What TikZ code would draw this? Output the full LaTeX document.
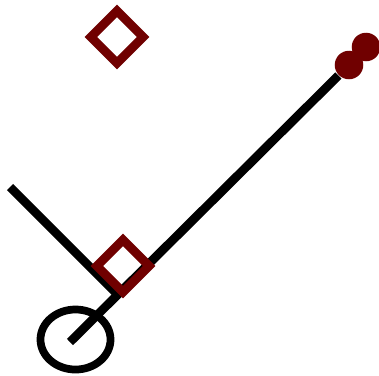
\documentclass[tikz,border=0pt]{standalone}
\usetikzlibrary{shapes.geometric}
\definecolor{maroonred}{RGB}{112,0,0}
\begin{document}
\begin{tikzpicture}[x=0.01cm,y=-0.01cm,
  stroke/.style={line width=2.5pt},
  marker/.style={draw=maroonred,line width=2.5pt,rotate=45,minimum size=0.37cm,inner sep=0pt},
  dot/.style={circle,fill=maroonred,minimum size=0.285cm,inner sep=0pt}]
  \useasboundingbox (0,0) rectangle (379,375);
  \node[ellipse,draw,line width=2.2pt,minimum width=0.7cm,minimum height=0.6cm,inner sep=0pt] (hub) at (75.5,339.5) {};
  \coordinate (base) at (70,342);
  \coordinate (elbow) at (120,297);
  \coordinate (tip) at (10,187);
  \node[dot] (p2) at (366,47) {};
  \node[dot] (p1) at (349,65) {};
  \draw[stroke] (tip) -- (elbow);
  \draw[stroke] (base) -- (p1);
  \node[marker] (m1) at (117,37) {};
  \node[marker] (m2) at (123,266) {};
\end{tikzpicture}
\end{document}
